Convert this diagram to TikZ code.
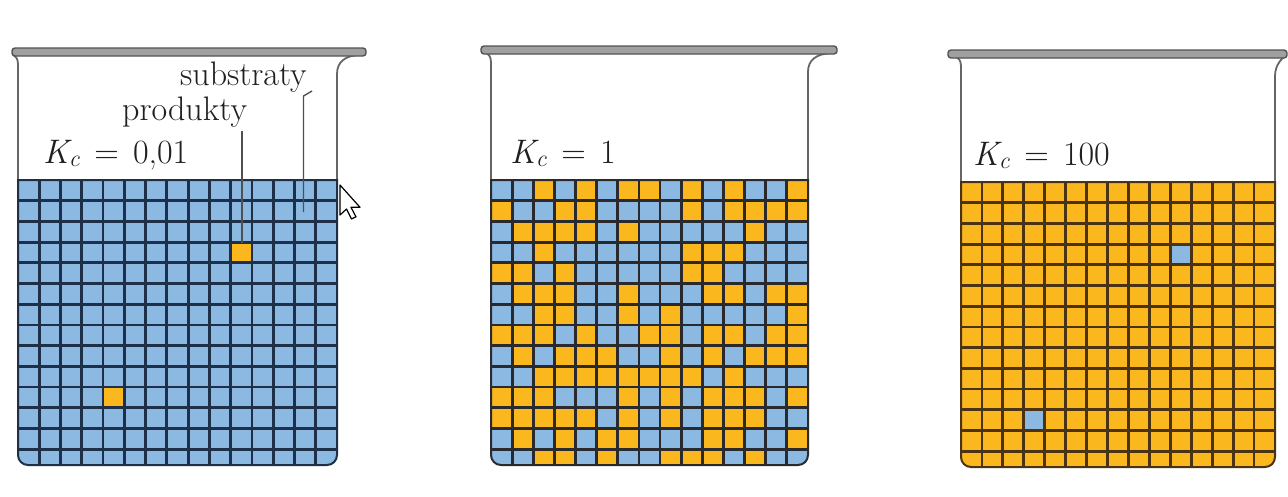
\documentclass[tikz,border=0pt]{standalone}
\usepackage{fontspec}
\definecolor{liqblue}{HTML}{8CB9E1}
\definecolor{liqorange}{HTML}{FAB71E}
\definecolor{bluegrid}{HTML}{1E3048}
\definecolor{orangegrid}{HTML}{4A3212}
\definecolor{mixgrid}{HTML}{2A2A2E}
\definecolor{glass}{HTML}{666666}
\definecolor{rimfill}{HTML}{A0A0A0}
\definecolor{leader}{HTML}{505050}
\tikzset{
  wall/.style={draw=glass, line width=1.8pt},
  rimbar/.style={draw=glass!80!black, fill=rimfill, line width=1.4pt, rounded corners=3pt},
  gridline/.style={line width=2.8pt},
  liqborder/.style={line width=2pt},
  txt/.style={anchor=base west, inner sep=0pt, font=\fontsize{34}{40}\selectfont, text=black!88},
  leaderline/.style={draw=leader, line width=1.4pt},
}
\newcommand{\liqpath}[4]{({#1},{#3}) -- ({#1},{#4-10}) arc[start angle=180,end angle=90,radius=10] -- ({#2-10},{#4}) arc[start angle=90,end angle=0,radius=10] -- ({#2},{#3}) -- cycle}
\newcommand{\gridlines}[5]{%
  \pgfmathsetmacro\cwd{(#2-#1)/15}%
  \foreach \k in {1,...,14} \draw[gridline,#5] ({#1+\k*\cwd},{#3}) -- ({#1+\k*\cwd},{#4});
  \foreach \k in {1,...,13} \draw[gridline,#5] ({#1},{#3+\k*20.7}) -- ({#2},{#3+\k*20.7});
}
\newcommand{\onecell}[6]{%
  \pgfmathsetmacro\cwd{(#2-#1)/15}%
  \fill[#6] ({#1+#4*\cwd},{#3+#5*20.7}) rectangle ++(\cwd,20.7);
}
\newcommand{\glassbody}[7]{%
  % #1 xL #2 xR #3 rimL #4 rimR #5 rimY #6 top #7 spout end x
  \draw[wall] ({#1},{#6}) -- ({#1},{#5+12}) .. controls ({#1},{#5+6}) and ({#1-3},{#5+4}) .. ({#1-5},{#5+3});
  \draw[wall] ({#2},{#6}) -- ({#2},{#5+22}) .. controls ({#2},{#5+10}) and ({#2+8},{#5+4}) .. ({#7},{#5+3});
  \draw[rimbar] ({#3},{#5-4}) rectangle ({#4},{#5+4});
}
\newcommand{\kc}[1]{{\itshape K}\textsubscript{\itshape c}\hspace{0.42em}=\hspace{0.42em}#1}
\begin{document}
\begin{tikzpicture}[x=1pt,y=-1pt]
\fill[white] (0,0) rectangle (1288,496);
\useasboundingbox (0,0) rectangle (1288,496);

% ---------- Beaker 1: K_c = 0,01 ----------
\glassbody{18}{337}{12}{366}{52}{180}{358}
\begin{scope}
  \clip \liqpath{18}{337}{180}{465};
  \fill[liqblue] (18,180) rectangle (337,465);
  \onecell{18}{337}{180}{10}{3}{liqorange}
  \onecell{18}{337}{180}{4}{10}{liqorange}
  \gridlines{18}{337}{180}{465}{bluegrid}
\end{scope}
\draw[liqborder,bluegrid] \liqpath{18}{337}{180}{465};

% ---------- Beaker 2: K_c = 1 ----------
\glassbody{491}{808}{481}{837}{50}{180}{831}
\begin{scope}
  \clip \liqpath{491}{808}{180}{465};
  \fill[liqblue] (491,180) rectangle (808,465);
  \foreach \row [count=\r from 0] in {
    {0,0,1,0,1,0,1,1,0,1,0,1,0,0,1},
    {1,0,0,1,1,0,0,0,0,1,0,1,1,1,1},
    {0,1,1,1,1,0,1,0,0,0,0,0,1,0,0},
    {0,0,1,0,0,0,0,0,0,1,1,1,0,0,0},
    {1,1,0,1,0,0,0,0,0,1,1,0,0,0,0},
    {0,1,1,1,0,0,1,0,0,0,1,1,0,1,1},
    {0,0,1,1,0,0,1,0,1,0,0,0,0,0,1},
    {1,1,1,0,1,0,0,1,1,0,1,1,0,1,1},
    {0,1,0,1,1,1,0,0,1,0,1,0,1,1,1},
    {0,0,1,1,1,1,1,1,1,1,0,1,0,0,0},
    {1,1,1,0,0,0,1,0,1,0,1,1,1,0,1},
    {1,1,1,1,1,0,1,0,1,0,1,1,1,0,0},
    {0,1,0,1,0,1,1,0,0,0,1,1,0,0,1},
    {0,0,1,1,0,1,0,0,1,1,1,0,1,0,0}} {
    \foreach \v [count=\c from 0] in \row {
      \ifnum\v=1 \onecell{491}{808}{180}{\c}{\r}{liqorange}\fi
    }
  }
  \gridlines{491}{808}{180}{465}{mixgrid}
\end{scope}
\draw[liqborder,mixgrid] \liqpath{491}{808}{180}{465};

% ---------- Beaker 3: K_c = 100 ----------
\glassbody{961}{1275}{948}{1287}{54}{182}{1284}
\begin{scope}
  \clip \liqpath{961}{1275}{182}{467};
  \fill[liqorange] (961,182) rectangle (1275,467);
  \onecell{961}{1275}{182}{10}{3}{liqblue}
  \onecell{961}{1275}{182}{3}{11}{liqblue}
  \gridlines{961}{1275}{182}{467}{orangegrid}
\end{scope}
\draw[liqborder,orangegrid] \liqpath{961}{1275}{182}{467};

% ---------- labels ----------
\node[txt] (subs) at (180,85) {substraty};
\node[txt] (prod) at (122,120) {produkty};
\node[txt] (k1) at (43,163) {\kc{0,01}};
\node[txt] (k2) at (510,163) {\kc{1}};
\node[txt] (k3) at (973,165) {\kc{100}};

% ---------- leader lines ----------
\coordinate (prodtail) at (242,131);
\coordinate (prodhead) at (242,243);
\coordinate (substail) at (312,91);
\coordinate (subsbend) at (303.5,96);
\coordinate (subshead) at (303.5,212);
\draw[leaderline] (prodtail) -- (prodhead);
\draw[leaderline] (substail) -- (subsbend) -- (subshead);

% ---------- mouse cursor ----------
\coordinate (cursortip) at (340,185);
\draw[fill=white, draw=black, line width=1.2pt, line join=round]
  (cursortip) -- ++(0,30) -- ++(6.5,-6) -- ++(5,10) -- ++(4.5,-2.2) -- ++(-5,-9.5) -- ++(9,0) -- cycle;
\end{tikzpicture}
\end{document}
